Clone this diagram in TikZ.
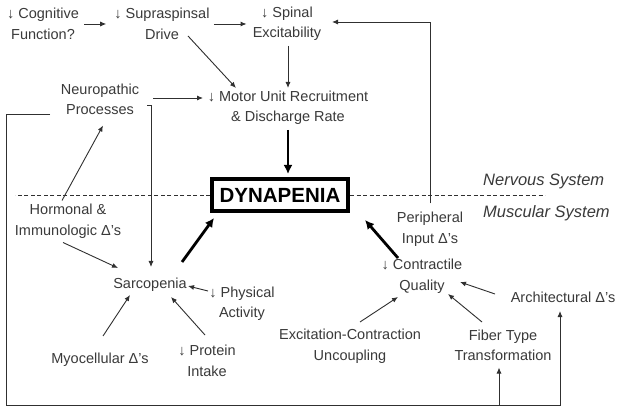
\documentclass[tikz,border=0pt]{standalone}
\usepackage{fontspec}
\setmainfont{Liberation Sans}
\usetikzlibrary{arrows.meta,calc}
\definecolor{txt}{HTML}{3A3A3A}
\definecolor{ln}{HTML}{303030}
\begin{document}
\begin{tikzpicture}[x=1pt,y=-1pt,
  lbl/.style={align=center,inner sep=0pt,text=txt,font=\fontsize{14.5}{20.5}\selectfont},
  sys/.style={inner sep=0pt,text=txt,font=\fontsize{16.5}{20}\selectfont\itshape},
  arr/.style={draw=ln,line width=0.9pt,-{Latex[length=6pt,width=5pt]}},
  plain/.style={draw=ln,line width=0.9pt},
  thick arr/.style={draw=black,line width=2.8pt,-{Latex[length=9pt,width=9pt]}},
  dash line/.style={draw=ln,line width=0.8pt,dash pattern=on 4pt off 2.5pt}]
\useasboundingbox (0,0) rectangle (623,411);
\fill[white] (0,0) rectangle (623,411);

% nodes
\node[lbl] (cog) at (43,24) {↓ Cognitive\\Function?};
\node[lbl] (sup) at (162,24) {↓ Supraspinsal\\Drive};
\node[lbl] (spin) at (287,24) {↓ Spinal\\Excitability};
\node[lbl] (neuro) at (100,99.5) {Neuropathic\\Processes};
\node[lbl] (motor) at (288,108) {↓ Motor Unit Recruitment\\\& Discharge Rate};
\node[draw=black,line width=4pt,minimum width=136pt,minimum height=32pt,inner sep=0pt,
      font=\fontsize{20.5}{24}\selectfont\bfseries] (dyn) at (280,195) {DYNAPENIA};
\node[sys,anchor=west] (nerv) at (483,181) {Nervous System};
\node[sys,anchor=west] (musc) at (483,213) {Muscular System};
\node[lbl] (horm) at (68,221.5) {Hormonal \&\\Immunologic Δ’s};
\node[lbl] (sarc) at (150,285) {Sarcopenia};
\node[lbl] (phys) at (242,304) {↓ Physical\\Activity};
\node[lbl] (myo) at (100,360) {Myocellular Δ’s};
\node[lbl] (prot) at (207,361) {↓ Protein\\Intake};
\node[lbl] (periph) at (430,229.5) {Peripheral\\Input Δ’s};
\node[lbl] (contr) at (422,276.5) {↓ Contractile\\Quality};
\node[lbl] (arch) at (563,297) {Architectural Δ’s};
\node[lbl] (exc) at (350,346) {Excitation-Contraction\\Uncoupling};
\node[lbl] (fiber) at (503,345.5) {Fiber Type\\Transformation};
\coordinate (loopL) at (6,405);

% dashed divider
\draw[dash line] (dyn.west) -- ++(-195,0);
\draw[dash line] (dyn.east) -- ++(195,0);

% nervous system connectors
\draw[arr,shorten <=5pt,shorten >=8pt] (cog.east) -- (sup.west);
\draw[arr,shorten <=4pt,shorten >=6pt] (sup.east) -- (spin.west);
\draw[arr] ([shift={(26,12)}]sup.center) -- ([shift={(-52,-20)}]motor.center);
\draw[arr] ([shift={(1,22)}]spin.center) -- ([shift={(0,-20)}]motor.center);
\draw[arr] ([shift={(53,-1.5)}]neuro.center) -- ([shift={(-85,-10)}]motor.center);
\draw[thick arr,shorten >=3pt] ([shift={(0,22)}]motor.center) -- (motor.center |- dyn.north);
\draw[arr] ([shift={(0,-26)}]periph.center) |- ([shift={(45,-2)}]spin.center);
\draw[arr] ([shift={(47,5.5)}]neuro.center) -- ++(4,0) -- ([shift={(1,-18)}]sarc.center);
\draw[arr] ([shift={(-50,14.5)}]neuro.center) -| (loopL) -| ([shift={(-3,14)}]arch.center);
\draw[arr] ([shift={(-4,59.5)}]fiber.center) -- ([shift={(-4,22)}]fiber.center);

% muscular system connectors
\draw[arr] ([shift={(-6,-21)}]horm.center) -- ([shift={(3,26)}]neuro.center);
\draw[arr] ([shift={(-5,21)}]horm.center) -- ([shift={(-32,-17)}]sarc.center);
\draw[thick arr] ([shift={(32,-23)}]sarc.center) -- ([shift={(-66,23)}]dyn.center);
\draw[arr] ([shift={(-34,-13)}]phys.center) -- ([shift={(38,1)}]sarc.center);
\draw[arr] ([shift={(3,-24)}]myo.center) -- ([shift={(-20,10)}]sarc.center);
\draw[arr] ([shift={(-2,-26)}]prot.center) -- ([shift={(21,12)}]sarc.center);
\draw[thick arr] ([shift={(-24,-18.5)}]contr.center) -- ([shift={(85,25)}]dyn.center);
\draw[arr] ([shift={(-68,-3)}]arch.center) -- ([shift={(38,5.5)}]contr.center);
\draw[arr] ([shift={(10,-24)}]exc.center) -- ([shift={(-24,20.5)}]contr.center);
\draw[arr] ([shift={(-21,-23.5)}]fiber.center) -- ([shift={(26,17.5)}]contr.center);
\end{tikzpicture}
\end{document}
